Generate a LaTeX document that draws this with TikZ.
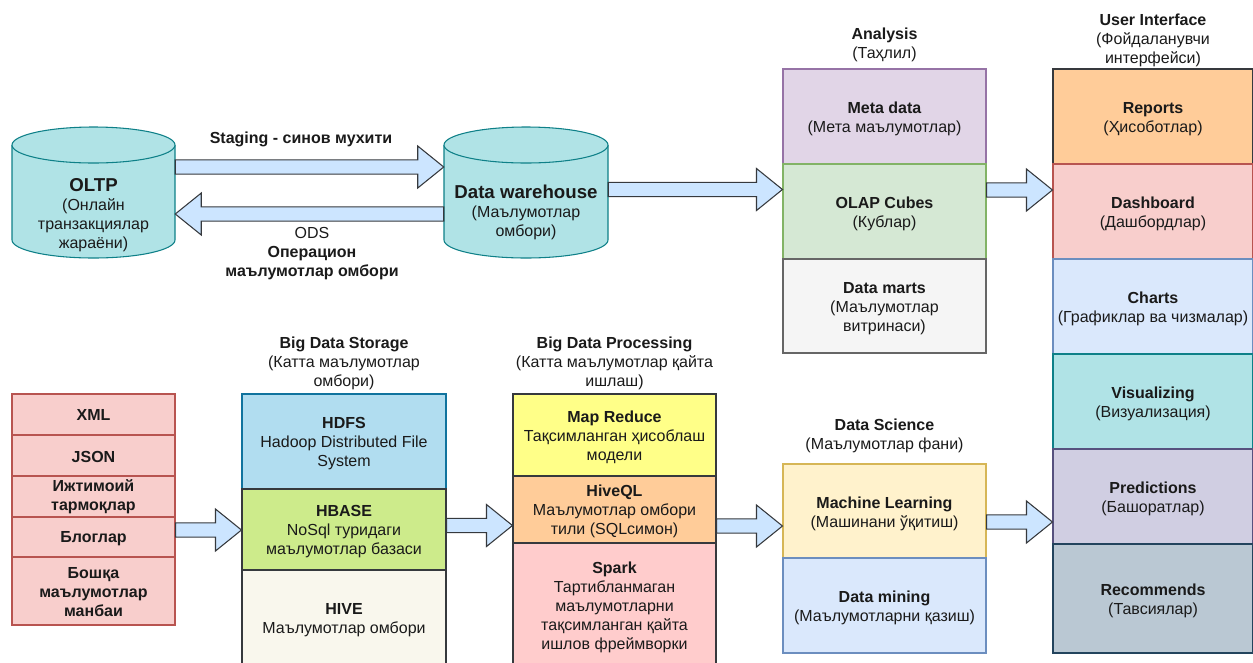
\documentclass[tikz,border=0pt]{standalone}
\usepackage{fontspec}
\setmainfont{Liberation Sans}
\usetikzlibrary{calc}

\definecolor{txt}{HTML}{1A1A1A}
\definecolor{cylF}{HTML}{B0E3E6}\definecolor{cylD}{HTML}{0E8088}
\definecolor{arrF}{HTML}{CCE5FF}\definecolor{arrD}{HTML}{36393D}
\definecolor{purF}{HTML}{E1D5E7}\definecolor{purD}{HTML}{9673A6}
\definecolor{grnF}{HTML}{D5E8D4}\definecolor{grnD}{HTML}{82B366}
\definecolor{gryF}{HTML}{F5F5F5}\definecolor{gryD}{HTML}{666666}
\definecolor{orgF}{HTML}{FFCC99}\definecolor{drkD}{HTML}{36393D}
\definecolor{redF}{HTML}{F8CECC}\definecolor{redD}{HTML}{B85450}
\definecolor{bluF}{HTML}{DAE8FC}\definecolor{bluD}{HTML}{6C8EBF}
\definecolor{tealF}{HTML}{B0E3E6}\definecolor{tealD}{HTML}{0E8088}
\definecolor{lavF}{HTML}{D0CEE2}\definecolor{lavD}{HTML}{56517E}
\definecolor{slaF}{HTML}{BAC8D3}\definecolor{slaD}{HTML}{23445D}
\definecolor{skyF}{HTML}{B1DDF0}\definecolor{skyD}{HTML}{10739E}
\definecolor{limF}{HTML}{CDEB8B}
\definecolor{crmF}{HTML}{F9F7ED}
\definecolor{ylwF}{HTML}{FFFF88}
\definecolor{pnkF}{HTML}{FFCCCC}
\definecolor{sanF}{HTML}{FFF2CC}\definecolor{sanD}{HTML}{D6B656}

% a filled box (name, options, centre) with its text set slightly below the centre
\newcommand\cellbox[5]{%
  \node[#2] (#1) at (#3) {};
  \node (#1-t) at ($(#1.center)+(0,#4)$) {#5};}

% horizontal block arrow from a tail point to a tip point
\newcommand\blockarrow[2]{%
  \draw[barrow] ($(#1)+(0,5.4pt)$)
    -- ($(#2)!19.5pt!(#1)+(0,5.4pt)$)
    -- ($(#2)!19.5pt!(#1)+(0,15.75pt)$)
    -- (#2)
    -- ($(#2)!19.5pt!(#1)+(0,-15.75pt)$)
    -- ($(#2)!19.5pt!(#1)+(0,-5.4pt)$)
    -- ($(#1)+(0,-5.4pt)$) -- cycle;}

\begin{document}
\begin{tikzpicture}[x=0.75pt,y=-0.75pt,
  every node/.style={font=\fontsize{12}{14.25}\selectfont, text=txt, align=center, inner sep=0pt},
  cell/.style 2 args={draw, rectangle, line width=0.8pt,
    minimum width=#1*0.75pt, minimum height=#2*0.75pt},
  barrow/.style={draw=arrD, fill=arrF, line width=0.8pt, line join=miter},
  cyl/.style={draw=cylD, fill=cylF, line width=0.8pt},
]
\useasboundingbox (0,0) rectangle (1253,662);
\clip (0,0) rectangle (1253,662);

% ---------- databases ----------
\node[minimum width=163*0.75pt, minimum height=131*0.75pt] (oltp) at (93.5,192.5) {};
\draw[cyl] (12,145) -- (12,240)
  arc[start angle=180,end angle=360,x radius=61.125pt,y radius=13.5pt]
  -- (175,145)
  arc[start angle=0,end angle=180,x radius=61.125pt,y radius=13.5pt] -- cycle;
\draw[cyl] (12,145) arc[start angle=180,end angle=360,x radius=61.125pt,y radius=13.5pt];
\node (oltpt) at (93.5,215.5) {{\bfseries\fontsize{14}{16}\selectfont OLTP}\\(Онлайн\\транзакциялар\\жараёни)};

\node[minimum width=164*0.75pt, minimum height=131*0.75pt] (dw) at (526,192.5) {};
\draw[cyl] (444,145) -- (444,240)
  arc[start angle=180,end angle=360,x radius=61.5pt,y radius=13.5pt]
  -- (608,145)
  arc[start angle=0,end angle=180,x radius=61.5pt,y radius=13.5pt] -- cycle;
\draw[cyl] (444,145) arc[start angle=180,end angle=360,x radius=61.5pt,y radius=13.5pt];
\node (dwt) at (526,212.5) {{\bfseries\fontsize{14}{16}\selectfont Data warehouse}\\(Маълумотлар\\омбори)};

\node[font=\bfseries\fontsize{12}{14.25}\selectfont] (stg) at (301,139) {Staging - синов мухити};
\node (ods) at (312,254) {ODS\\\textbf{Операцион}\\\textbf{маълумотлар омбори}};

% ---------- analysis ----------
\node (antitle) at (884.5,44.5) {\textbf{Analysis}\\(Таҳлил)};
\cellbox{meta}{cell={203}{95}, fill=purF, draw=purD}{884.5,116.5}{2.5}{\textbf{Meta data}\\(Мета маълумотлар)}
\cellbox{olap}{cell={203}{95}, fill=grnF, draw=grnD}{884.5,211.5}{2.5}{\textbf{OLAP Cubes}\\(Кублар)}
\cellbox{marts}{cell={203}{94}, fill=gryF, draw=gryD}{884.5,306}{2.5}{\textbf{Data marts}\\(Маълумотлар\\витринаси)}

% ---------- user interface ----------
\node (uititle) at (1153,40) {\textbf{User Interface}\\(Фойдаланувчи\\интерфейси)};
\cellbox{rep}{cell={200}{95}, fill=orgF, draw=drkD}{1153,116.5}{2.5}{\textbf{Reports}\\(Ҳисоботлар)}
\cellbox{dash}{cell={200}{95}, fill=redF, draw=redD}{1153,211.5}{2.5}{\textbf{Dashboard}\\(Дашбордлар)}
\cellbox{chart}{cell={200}{95}, fill=bluF, draw=bluD}{1153,306.5}{2.5}{\textbf{Charts}\\(Графиклар ва чизмалар)}
\cellbox{vis}{cell={200}{95}, fill=tealF, draw=tealD}{1153,401.5}{2.5}{\textbf{Visualizing}\\(Визуализация)}
\cellbox{pred}{cell={200}{95}, fill=lavF, draw=lavD}{1153,496.5}{2.5}{\textbf{Predictions}\\(Башоратлар)}
\cellbox{rec}{cell={200}{109}, fill=slaF, draw=slaD}{1153,598.5}{2.5}{\textbf{Recommends}\\(Тавсиялар)}

% ---------- data sources ----------
\cellbox{xml}{cell={163}{41}, fill=redF, draw=redD}{93.5,414.5}{0}{\textbf{XML}}
\cellbox{json}{cell={163}{41}, fill=redF, draw=redD}{93.5,455.5}{1}{\textbf{JSON}}
\cellbox{soc}{cell={163}{41}, fill=redF, draw=redD}{93.5,496.5}{0.5}{\textbf{Ижтимоий}\\\textbf{тармоқлар}}
\cellbox{blog}{cell={163}{40}, fill=redF, draw=redD}{93.5,537}{1.5}{\textbf{Блоглар}}
\cellbox{other}{cell={163}{68}, fill=redF, draw=redD}{93.5,591}{1}{\textbf{Бошқа}\\\textbf{маълумотлар}\\\textbf{манбаи}}

% ---------- big data storage ----------
\node (sttitle) at (344,363) {\textbf{Big Data Storage}\\(Катта маълумотлар\\омбори)};
\cellbox{hdfs}{cell={204}{95}, fill=skyF, draw=skyD}{344,441.5}{2.5}{\textbf{HDFS}\\Hadoop Distributed File\\System}
\cellbox{hbase}{cell={204}{81}, fill=limF, draw=drkD}{344,529.5}{2}{\textbf{HBASE}\\NoSql туридаги\\маълумотлар базаси}
\cellbox{hive}{cell={204}{96}, fill=crmF, draw=drkD}{344,618}{2}{\textbf{HIVE}\\Маълумотлар омбори}

% ---------- big data processing ----------
\node (prtitle) at (614.5,363) {\textbf{Big Data Processing}\\(Катта маълумотлар қайта\\ишлаш)};
\cellbox{mr}{cell={203}{82}, fill=ylwF, draw=drkD}{614.5,435}{2.5}{\textbf{Map Reduce}\\Тақсимланган ҳисоблаш\\модели}
\cellbox{hql}{cell={203}{67}, fill=orgF, draw=drkD}{614.5,509.5}{2}{\textbf{HiveQL}\\Маълумотлар омбори\\тили (SQLсимон)}
\cellbox{spark}{cell={203}{124}, fill=pnkF, draw=drkD}{614.5,605}{2}{\textbf{Spark}\\Тартибланмаган\\маълумотларни\\тақсимланган қайта\\ишлов фреймворки}

% ---------- data science ----------
\node (dstitle) at (884.5,435.5) {\textbf{Data Science}\\(Маълумотлар фани)};
\cellbox{ml}{cell={203}{94}, fill=sanF, draw=sanD}{884.5,511}{3}{\textbf{Machine Learning}\\(Машинани ўқитиш)}
\cellbox{dm}{cell={203}{95}, fill=bluF, draw=bluD}{884.5,605.5}{2.5}{\textbf{Data mining}\\(Маълумотларни қазиш)}

% ---------- arrow end points ----------
\coordinate (a1s) at (oltp.east |- 0,167);  \coordinate (a1e) at (dw.west |- 0,167);
\coordinate (a2s) at (dw.west |- 0,214);    \coordinate (a2e) at (oltp.east |- 0,214);
\coordinate (a3s) at (dw.east |- 0,189.5);  \coordinate (a3e) at (olap.west |- 0,189.5);
\coordinate (a4s) at (olap.east |- 0,190);  \coordinate (a4e) at (dash.west |- 0,190);
\coordinate (a5s) at (blog.east |- 0,530);  \coordinate (a5e) at (hbase.west |- 0,530);
\coordinate (a6s) at (hbase.east |- 0,525.5); \coordinate (a6e) at (hql.west |- 0,525.5);
\coordinate (a7s) at (hql.east |- 0,526);   \coordinate (a7e) at (ml.west |- 0,526);
\coordinate (a8s) at (ml.east |- 0,522);    \coordinate (a8e) at (pred.west |- 0,522);

\blockarrow{a1s}{a1e}
\blockarrow{a2s}{a2e}
\blockarrow{a3s}{a3e}
\blockarrow{a4s}{a4e}
\blockarrow{a5s}{a5e}
\blockarrow{a6s}{a6e}
\blockarrow{a7s}{a7e}
\blockarrow{a8s}{a8e}
\end{tikzpicture}
\end{document}
